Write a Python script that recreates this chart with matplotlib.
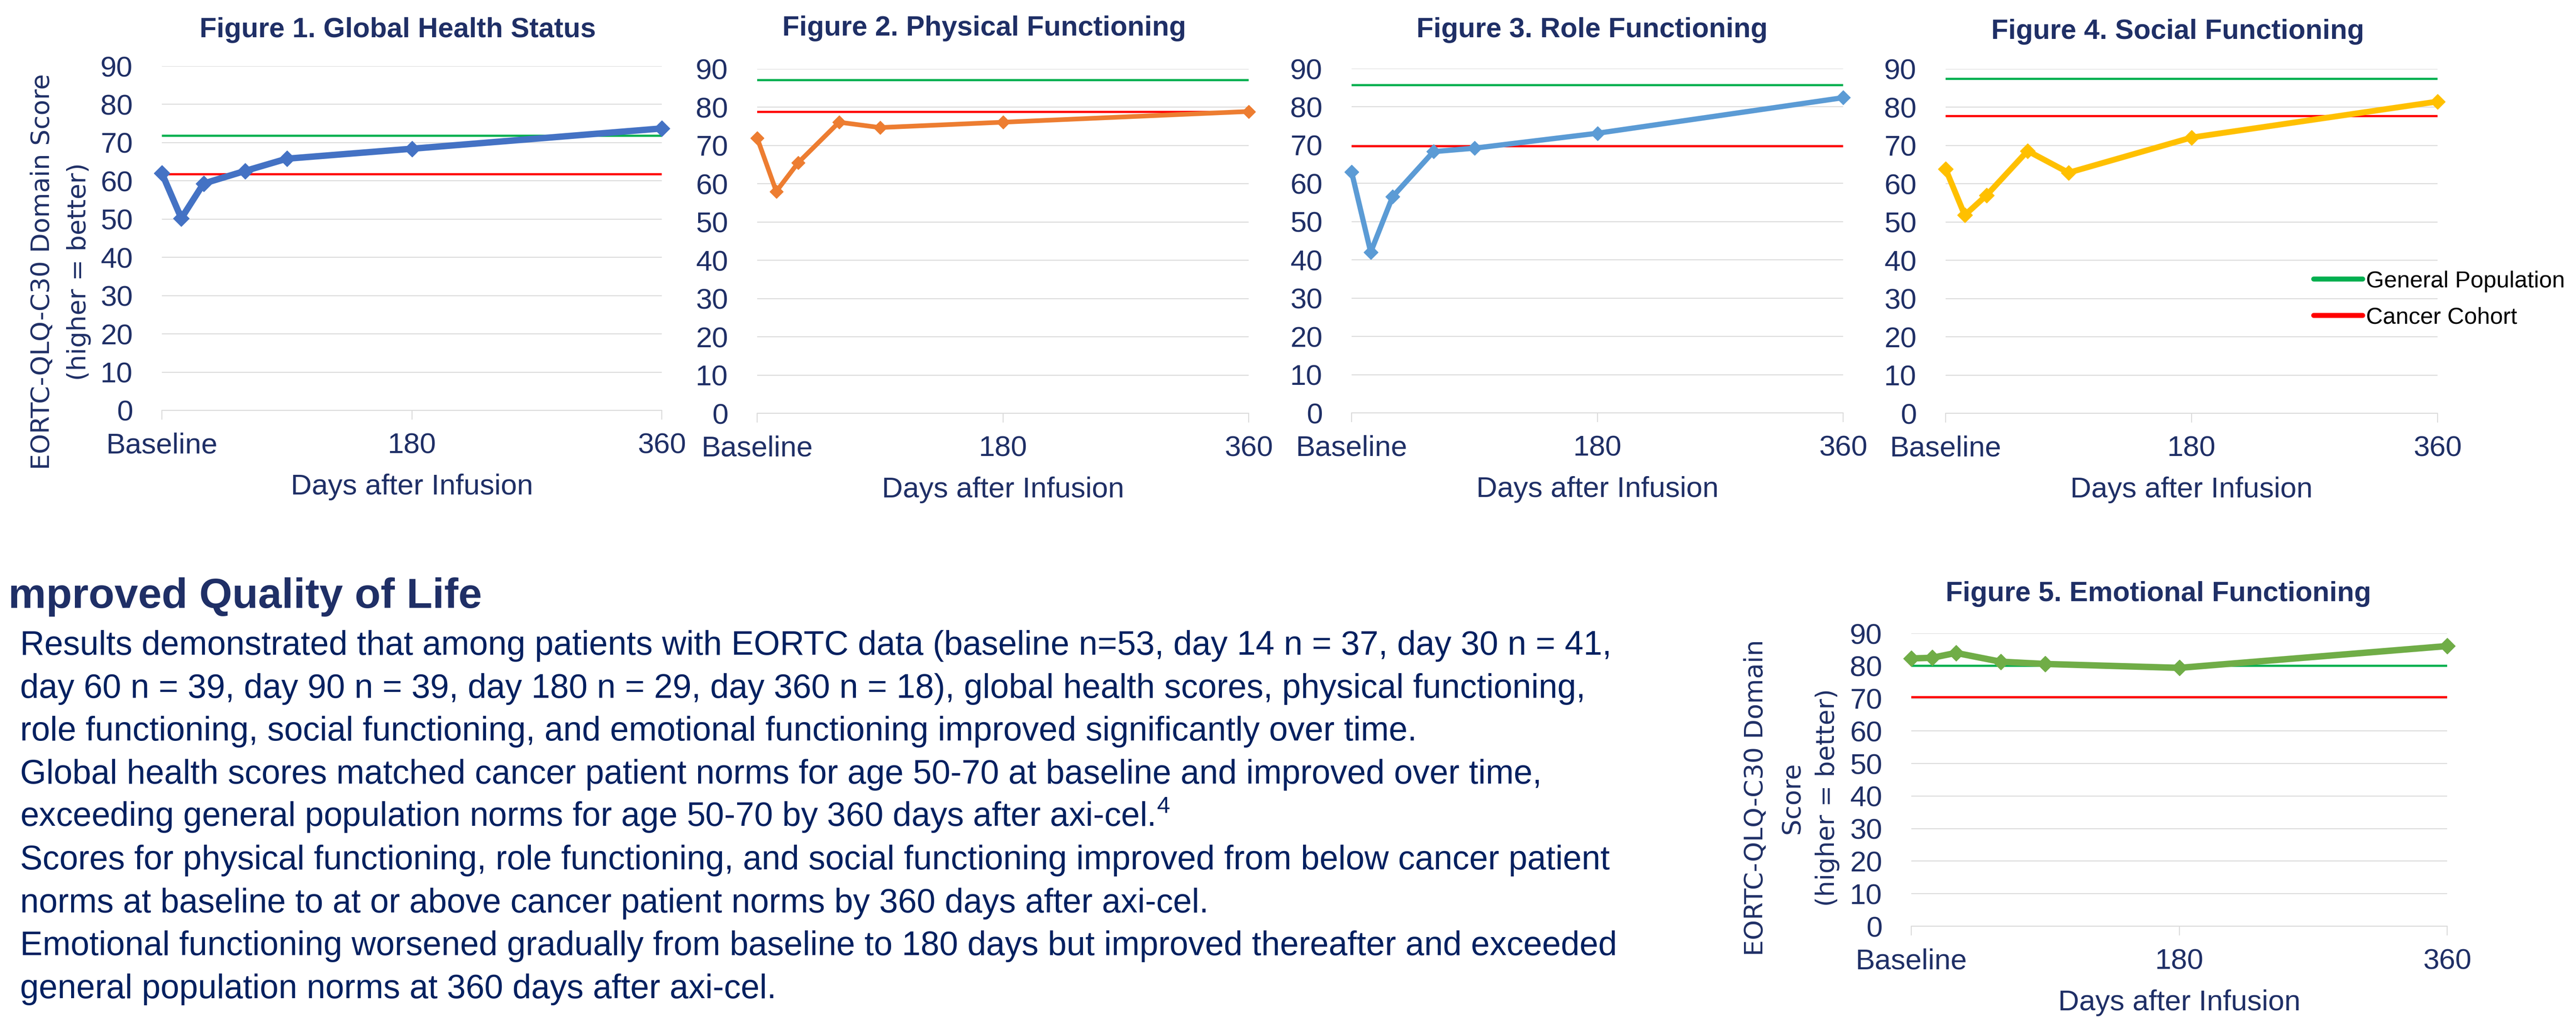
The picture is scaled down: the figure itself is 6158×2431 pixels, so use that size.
import matplotlib
matplotlib.use("Agg")
import matplotlib.pyplot as plt
from matplotlib.lines import Line2D

# days after infusion (0 = baseline)
tage = [0, 14, 30, 60, 90, 180, 360]
tick_pos = [0, 180, 360]
tick_labels = ["Baseline", "180", "360"]

global_health = [62.0, 50.2, 59.3, 62.6, 65.8, 68.4, 73.7]
physical = [72.0, 58.0, 65.5, 76.1, 74.7, 76.1, 78.9]
role = [63.0, 42.0, 56.5, 68.3, 69.2, 73.1, 82.4]
social = [63.9, 51.8, 57.0, 68.6, 62.9, 72.1, 81.5]
emotional = [82.3, 82.5, 84.0, 81.3, 80.6, 79.4, 86.1]

# norms: general population / cancer cohort
norm_general = [71.8, 87.2, 85.7, 87.5, 80.1]
norm_cancer = [61.8, 78.8, 69.8, 77.7, 70.5]

titles = ["Figure 1. Global Health Status", "Figure 2. Physical Functioning",
          "Figure 3. Role Functioning", "Figure 4. Social Functioning",
          "Figure 5. Emotional Functioning"]
serien = [global_health, physical, role, social, emotional]
farben = ["#4472C4", "#ED7D31", "#5B9BD5", "#FFC000", "#70AD47"]
linien = [11, 8, 9, 10, 11]

body_lines = [
    "Results demonstrated that among patients with EORTC data (baseline n=53, day 14 n = 37, day 30 n = 41,",
    "day 60 n = 39, day 90 n = 39, day 180 n = 29, day 360 n = 18), global health scores, physical functioning,",
    "role functioning, social functioning, and emotional functioning improved significantly over time.",
    "Global health scores matched cancer patient norms for age 50-70 at baseline and improved over time,",
    "exceeding general population norms for age 50-70 by 360 days after axi-cel.$^{4}$",
    "Scores for physical functioning, role functioning, and social functioning improved from below cancer patient",
    "norms at baseline to at or above cancer patient norms by 360 days after axi-cel.",
    "Emotional functioning worsened gradually from baseline to 180 days but improved thereafter and exceeded",
    "general population norms at 360 days after axi-cel.",
]

W, H = 6158, 2431
NAVY = "#1F2F66"
GRID = "#D9D9D9"
plt.rcParams["font.family"] = ["Liberation Sans", "DejaVu Sans"]
plt.rcParams["mathtext.fontset"] = "custom"
plt.rcParams["mathtext.rm"] = "Liberation Sans"

fig = plt.figure(figsize=(W / 100, H / 100), dpi=100)

# axes boxes in pixels: left, top, right, bottom
boxen = [(387, 158, 1582, 981), (1810, 165, 2985, 988), (3231, 164, 4406, 987),
         (4651, 165, 5827, 988), (4569, 1514, 5850, 2214)]
titel_pos = [(951, 72), (2353, 68), (3806, 72), (5206, 76), (5160, 1420)]


def px_axes(box):
    l, t, r, b = box
    return fig.add_axes([l / W, 1 - b / H, (r - l) / W, (b - t) / H])


for i, box in enumerate(boxen):
    ax = px_axes(box)
    ax.set_xlim(0, 360)
    ax.set_ylim(0, 90)
    ax.set_yticks(range(0, 91, 10))
    ax.set_xticks(tick_pos)
    ax.set_xticklabels(tick_labels)
    ax.grid(axis="y", color=GRID, lw=1.6, zorder=0)
    for s in ["left", "right", "top"]:
        ax.spines[s].set_visible(False)
    ax.spines["bottom"].set_color(GRID)
    ax.spines["bottom"].set_linewidth(1.6)
    ax.tick_params(axis="y", length=0, pad=50, labelsize=50, labelcolor=NAVY)
    ax.tick_params(axis="x", length=16, width=1.6, color=GRID, pad=22,
                   labelsize=50, labelcolor=NAVY)

    ax.axhline(norm_general[i], color="#00B050", lw=3.8, zorder=2)
    ax.axhline(norm_cancer[i], color="#FF0000", lw=3.8, zorder=2)
    ax.plot(tage, serien[i], color=farben[i], lw=linien[i], marker="D",
            markersize=linien[i] + 8, zorder=3, clip_on=False,
            solid_joinstyle="round")

    ax.set_xlabel("Days after Infusion", fontsize=50, color=NAVY, va="center")
    hoehe = box[3] - box[1]
    ax.xaxis.set_label_coords(0.5, -183 / hoehe)

    tx, ty = titel_pos[i]
    fig.text(tx / W, 1 - ty / H, titles[i], fontsize=48, fontweight="bold",
             color=NAVY, ha="center", va="center")

# y axis labels
ylab_kw = dict(fontsize=44, color=NAVY, rotation=90, ha="center", va="center",
               family="DejaVu Sans")
fig.text(102 / W, 1 - 650 / H, "EORTC-QLQ-C30 Domain Score", **ylab_kw)
fig.text(189 / W, 1 - 650 / H, "(higher = better)", **ylab_kw)
fig.text(4198 / W, 1 - 1907 / H, "EORTC-QLQ-C30 Domain", **ylab_kw)
fig.text(4284 / W, 1 - 1907 / H, "Score", **ylab_kw)
fig.text(4369 / W, 1 - 1907 / H, "(higher = better)", **ylab_kw)

# legend of the norm lines
griffe = [Line2D([], [], color="#00B050", lw=8.6, solid_capstyle="round"),
          Line2D([], [], color="#FF0000", lw=8.6, solid_capstyle="round")]
fig.legend(griffe, ["General Population", "Cancer Cohort"], loc="center left",
           bbox_to_anchor=(5531 / W, 1 - 716 / H), frameon=False, fontsize=40,
           handlelength=2.1, handletextpad=0.15, labelspacing=0.62,
           borderpad=0, borderaxespad=0)

# text block
fig.text(20 / W, 1 - 1453 / H, "mproved Quality of Life", fontsize=73,
         fontweight="bold", color=NAVY, ha="left", va="baseline")
for k, zeile in enumerate(body_lines):
    fig.text(48 / W, 1 - (1565 + 102.6 * k) / H, zeile, fontsize=58,
             color="#002060", ha="left", va="baseline")

fig.savefig("out.png", dpi=100)
